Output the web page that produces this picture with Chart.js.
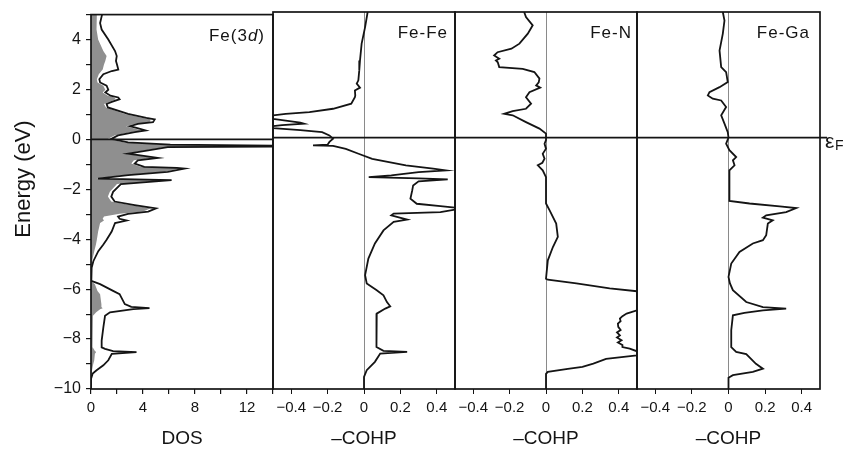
<!DOCTYPE html>
<html>
<head>
<meta charset="utf-8">
<script src="https://cdn.jsdelivr.net/npm/chart.js@4.4.1/dist/chart.umd.min.js"></script>
<style>
  html, body { margin: 0; padding: 0; background: #fff; }
  #wrap { position: relative; width: 843px; height: 456px; }
  #wrap canvas { position: absolute; left: 0; top: 0; }
</style>
</head>
<body>
<div id="wrap">
  <canvas id="p0" width="843" height="456"></canvas>
  <canvas id="p1" width="843" height="456"></canvas>
  <canvas id="p2" width="843" height="456"></canvas>
  <canvas id="p3" width="843" height="456"></canvas>
</div>
<script>
// total DOS and Fe(3d) partial DOS, energies in eV (top to bottom)
const dosEnergy = [5.0, 4.66, 4.4, 4.0, 3.54, 3.34, 3.14, 3.0, 2.8, 2.74, 2.61, 2.41, 2.28, 2.15, 1.99, 1.88, 1.75, 1.68, 1.61, 1.5, 1.42, 1.28, 1.02, 0.86, 0.8, 0.69, 0.62, 0.53, 0.46, 0.36, 0.29, 0.16, 0.02, -0.12, -0.21, -0.25, -0.29, -0.31, -0.44, -0.57, -0.74, -0.84, -0.97, -1.1, -1.14, -1.17, -1.3, -1.43, -1.57, -1.63, -1.79, -2.1, -2.29, -2.49, -2.63, -2.76, -2.89, -2.98, -3.09, -3.18, -3.25, -3.35, -3.69, -4.02, -4.21, -4.48, -4.88, -5.14, -5.5, -5.67, -5.8, -6.07, -6.2, -6.6, -6.71, -6.76, -6.8, -6.93, -7.07, -7.53, -8.06, -8.33, -8.39, -8.48, -8.52, -8.59, -8.85, -9.05, -9.25, -9.38, -9.6, -10];
const dosTotal = [0.85, 0.7, 0.82, 1.33, 1.85, 1.98, 1.92, 2.0, 2.1, 1.6, 0.95, 0.64, 0.7, 1.2, 1.33, 1.1, 1.5, 2.1, 2.2, 1.6, 1.2, 1.3, 2.85, 4.26, 4.9, 4.77, 3.6, 3.0, 3.5, 4.2, 3.36, 2.08, 1.56, 2.85, 6.1, 14, 14, 5.9, 4.4, 2.85, 5.15, 3.6, 3.36, 4.1, 6.6, 7.2, 5.9, 2.85, 0.54, 6.2, 2.3, 1.7, 1.56, 1.82, 3.36, 5.0, 4.4, 2.85, 2.08, 2.2, 2.74, 1.85, 1.59, 1.2, 0.95, 0.56, 0.18, 0.05, 0, 0.05, 0.7, 1.7, 2.2, 2.6, 3.1, 4.5, 3.25, 1.46, 1.08, 0.95, 0.82, 0.82, 1.08, 1.7, 3.5, 1.6, 1.33, 0.95, 0.43, 0.13, 0, 0];
const dosFe3d = [0.45, 0.4, 0.45, 0.55, 0.95, 1.2, 1.1, 1.0, 0.9, 0.8, 0.6, 0.45, 0.5, 0.95, 1.1, 0.9, 1.3, 1.8, 1.9, 1.4, 1.0, 1.15, 2.6, 4.0, 4.6, 4.5, 3.3, 2.7, 3.2, 3.9, 3.0, 1.8, 1.3, 2.6, 5.8, 13.5, 13.5, 5.6, 4.1, 2.6, 4.9, 3.3, 3.1, 3.8, 6.3, 6.9, 5.6, 2.6, 0.4, 6.0, 2.0, 1.45, 1.3, 1.55, 3.0, 4.6, 4.0, 2.2, 1.0, 0.9, 1.0, 0.7, 0.55, 0.45, 0.38, 0.25, 0.08, 0.02, 0, 0.02, 0.3, 0.5, 0.7, 0.8, 0.8, 0.9, 0.7, 0.4, 0.15, 0.1, 0.1, 0.15, 0.2, 0.3, 0.4, 0.3, 0.25, 0.15, 0.08, 0.02, 0, 0];

const feFeEnergy = [5.0, 4.4, 3.74, 3.07, 2.68, 2.28, 2.15, 1.99, 1.88, 1.68, 1.61, 1.35, 1.15, 1.02, 0.95, 0.89, 0.75, 0.6, 0.56, 0.5, 0.46, 0.38, 0.3, 0.22, 0.09, -0.04, -0.17, -0.28, -0.31, -0.33, -0.45, -0.64, -0.84, -1.1, -1.23, -1.3, -1.37, -1.5, -1.57, -1.62, -1.66, -1.74, -1.9, -2.1, -2.43, -2.63, -2.72, -2.78, -2.86, -2.96, -3.02, -3.09, -3.26, -3.35, -3.69, -4.21, -4.81, -5.47, -5.8, -6.07, -6.27, -6.54, -6.71, -6.8, -7.0, -7.66, -8.33, -8.48, -8.52, -8.59, -8.92, -9.25, -9.52, -10];
const feFeCohp = [0.02, 0.006, -0.013, -0.022, -0.026, -0.031, -0.04, -0.022, -0.05, -0.048, -0.05, -0.07, -0.17, -0.3, -0.43, -0.5, -0.5, -0.35, -0.33, -0.45, -0.5, -0.5, -0.35, -0.23, -0.19, -0.17, -0.19, -0.2, -0.28, -0.17, -0.1, -0.03, 0.045, 0.23, 0.38, 0.45, 0.3, 0.15, 0.026, 0.3, 0.46, 0.3, 0.27, 0.265, 0.255, 0.29, 0.42, 0.5, 0.5, 0.42, 0.163, 0.15, 0.237, 0.163, 0.107, 0.06, 0.024, 0.006, 0.015, 0.07, 0.107, 0.126, 0.144, 0.117, 0.07, 0.067, 0.07, 0.107, 0.237, 0.089, 0.06, 0.015, 0, 0];

const feNEnergy = [5.0, 4.8, 4.47, 4.14, 3.74, 3.54, 3.4, 3.27, 3.14, 3.07, 3.0, 2.81, 2.74, 2.61, 2.35, 2.2, 2.08, 1.99, 1.81, 1.61, 1.35, 1.15, 1.06, 0.95, 0.89, 0.62, 0.36, 0.16, -0.1, -0.24, -0.44, -0.64, -0.84, -1.0, -1.1, -1.3, -1.57, -2.62, -2.89, -3.42, -3.95, -4.35, -4.88, -5.61, -5.65, -5.8, -6.0, -6.11, -6.87, -7.0, -7.1, -7.2, -7.3, -7.4, -7.53, -7.65, -7.75, -7.87, -7.95, -8.06, -8.15, -8.25, -8.33, -8.39, -8.5, -8.66, -8.8, -8.99, -9.12, -9.2, -9.32, -9.4, -10];
const feNCohp = [-0.12, -0.11, -0.073, -0.1, -0.146, -0.19, -0.266, -0.285, -0.257, -0.275, -0.265, -0.257, -0.128, -0.064, -0.036, -0.04, -0.054, -0.032, -0.091, -0.11, -0.082, -0.11, -0.183, -0.23, -0.183, -0.11, -0.036, 0, 0, -0.008, 0, -0.018, -0.008, -0.02, -0.045, -0.018, 0, 0, 0.02, 0.056, 0.065, 0.038, 0.01, 0, 0.01, 0.167, 0.35, 0.5, 0.5, 0.443, 0.42, 0.406, 0.41, 0.395, 0.397, 0.41, 0.39, 0.406, 0.39, 0.415, 0.395, 0.42, 0.42, 0.46, 0.5, 0.5, 0.33, 0.26, 0.2, 0.12, 0.01, 0, 0];

const feGaEnergy = [5.0, 4.66, 4.14, 3.8, 3.47, 2.81, 2.61, 2.21, 2.01, 1.81, 1.68, 1.55, 1.48, 1.22, 0.89, 0.56, 0.22, 0, -0.24, -0.5, -0.77, -0.9, -1.1, -1.3, -2.52, -2.62, -2.73, -2.8, -2.96, -3.09, -3.18, -3.29, -3.42, -3.88, -4.08, -4.21, -4.55, -5.01, -5.54, -5.8, -6.07, -6.54, -6.74, -6.8, -6.87, -6.97, -7.07, -7.66, -8.33, -8.52, -8.61, -9.0, -9.19, -9.32, -9.45, -9.55, -10];
const feGaCohp = [-0.031, -0.022, -0.031, -0.04, -0.049, -0.04, -0.013, -0.004, -0.049, -0.104, -0.113, -0.086, -0.04, -0.013, -0.04, -0.022, -0.004, 0, -0.013, 0.005, 0.042, 0.024, 0.033, 0.005, 0.005, 0.115, 0.28, 0.37, 0.315, 0.206, 0.188, 0.242, 0.215, 0.206, 0.188, 0.133, 0.06, 0.015, 0, 0.008, 0.024, 0.097, 0.188, 0.315, 0.188, 0.087, 0.024, 0.015, 0.015, 0.042, 0.097, 0.15, 0.188, 0.133, 0.024, 0, 0];

const energyTicks = [-10, -9, -8, -7, -6, -5, -4, -3, -2, -1, 0, 1, 2, 3, 4, 5];
const dosTicks = [0, 2, 4, 6, 8, 10, 12, 14];
const cohpTicks = [-0.4, -0.2, 0, 0.2, 0.4];

const panelLabels = [
  [["Fe(3", false], ["d", true], [")", false]],
  [["Fe-Fe", false]],
  [["Fe-N", false]],
  [["Fe-Ga", false]],
];
const axisTitles = ["DOS", "\u2013COHP", "\u2013COHP", "\u2013COHP"];

const FONT = "'Liberation Sans', Arial, sans-serif";
const INK = "#141414";
Chart.defaults.font.family = FONT;
Chart.defaults.color = INK;

function pts(energy, values) {
  return energy.map((e, i) => ({ x: values[i], y: e }));
}

function fmt(v) {
  const r = Math.round(v * 10) / 10;
  return r < 0 ? "\u2212" + String(-r) : String(r);
}

function useTicks(list) {
  return (s) => { s.ticks = list.map((value) => ({ value })); };
}

const panelDecor = {
  id: "panelDecor",
  afterDatasetsDraw(chart, args, opts) {
    const { ctx, chartArea: a, scales } = chart;
    const y0 = scales.y.getPixelForValue(0);
    ctx.save();
    ctx.strokeStyle = INK;
    ctx.lineWidth = 1.7;
    ctx.beginPath();
    ctx.moveTo(a.left, y0);
    ctx.lineTo(a.right + (opts.fermiExtra || 0), y0);
    ctx.stroke();
    ctx.strokeRect(a.left, a.top, a.right - a.left, a.bottom - a.top);

    // panel label, right aligned in the top corner
    ctx.fillStyle = INK;
    ctx.textBaseline = "alphabetic";
    ctx.letterSpacing = "1px";
    const parts = opts.label.map(([t, it]) => {
      ctx.font = `${it ? "italic " : ""}17px ${FONT}`;
      return { t, it, w: ctx.measureText(t).width };
    });
    let x = a.right - opts.labelInset - parts.reduce((s, p) => s + p.w, 0);
    for (const p of parts) {
      ctx.font = `${p.it ? "italic " : ""}17px ${FONT}`;
      ctx.fillText(p.t, x, a.top + 26);
      x += p.w;
    }
    ctx.letterSpacing = "0px";

    if (opts.fermiLabel) {
      ctx.font = `21px ${FONT}`;
      ctx.fillText("\u03b5", a.right + 5, y0 + 10);
      ctx.font = `14px ${FONT}`;
      ctx.fillText("F", a.right + 15, y0 + 12);
    }
    if (opts.yTitle) {
      ctx.translate(24, 179);
      ctx.rotate(-Math.PI / 2);
      ctx.font = `22px ${FONT}`;
      ctx.textAlign = "center";
      ctx.textBaseline = "middle";
      ctx.fillText(opts.yTitle, 0, 0);
    }
    ctx.restore();
  },
};

function makePanel(id, i, left, right, xOpts, datasets, extra) {
  const isFirst = i === 0;
  new Chart(document.getElementById(id), {
    type: "line",
    data: { datasets },
    options: {
      indexAxis: "y",
      responsive: false,
      animation: false,
      events: [],
      layout: { padding: { left: isFirst ? 0 : left, right: 843 - right, top: 12, bottom: 0 } },
      elements: { point: { radius: 0 }, line: { tension: 0 } },
      scales: {
        x: Object.assign({
          type: "linear",
          afterFit: (s) => { s.height = 67; },
          border: { display: false },
          title: { display: true, text: axisTitles[i], font: { size: 19 }, color: INK, padding: { top: 0, bottom: 6 } },
        }, xOpts),
        y: {
          type: "linear",
          min: -10,
          max: 5,
          display: isFirst,
          afterBuildTicks: useTicks(energyTicks),
          afterFit: (s) => { s.width = isFirst ? left : 0; },
          border: { display: false },
          grid: { drawOnChartArea: false, tickLength: 5, tickColor: INK, lineWidth: 1.2 },
          ticks: {
            autoSkip: false,
            padding: 5,
            font: { size: 16 },
            color: INK,
            callback: (v) => (v % 2 === 0 && v < 5 ? fmt(v) : ""),
          },
        },
      },
      plugins: {
        legend: { display: false },
        tooltip: { enabled: false },
        panelDecor: Object.assign({ label: panelLabels[i], labelInset: 8 }, extra),
      },
    },
    plugins: [panelDecor],
  });
}

const cohpX = {
  min: -0.5,
  max: 0.5,
  afterBuildTicks: useTicks(cohpTicks),
  grid: {
    color: (c) => (c.tick && Math.abs(c.tick.value) < 1e-9 ? "#8a8a8a" : "rgba(0,0,0,0)"),
    lineWidth: 1,
    tickLength: 5,
    tickColor: INK,
  },
  ticks: { autoSkip: false, maxRotation: 0, padding: 5, font: { size: 15 }, color: INK, callback: (v) => fmt(v) },
};

function curve(data) {
  return { data, borderColor: INK, borderWidth: 1.8, fill: false, order: 1 };
}

makePanel("p0", 0, 91, 273, {
  min: 0,
  max: 14,
  afterBuildTicks: useTicks(dosTicks),
  grid: { drawOnChartArea: false, tickLength: 5, tickColor: INK, lineWidth: 1.2 },
  ticks: { autoSkip: false, maxRotation: 0, padding: 5, font: { size: 15 }, color: INK, callback: (v) => (v % 4 === 0 && v < 14 ? String(v) : "") },
}, [
  curve(pts(dosEnergy, dosTotal)),
  { data: pts(dosEnergy, dosFe3d), borderWidth: 0, borderColor: "rgba(0,0,0,0)", backgroundColor: "#8f8f8f", fill: "origin", order: 2 },
], { yTitle: "Energy (eV)" });

makePanel("p1", 1, 273, 455, cohpX, [curve(pts(feFeEnergy, feFeCohp))], { labelInset: 7 });
makePanel("p2", 2, 455, 637, cohpX, [curve(pts(feNEnergy, feNCohp))], { labelInset: 5 });
makePanel("p3", 3, 637, 820, cohpX, [curve(pts(feGaEnergy, feGaCohp))], { labelInset: 10, fermiExtra: 7, fermiLabel: true });
</script>
</body>
</html>
